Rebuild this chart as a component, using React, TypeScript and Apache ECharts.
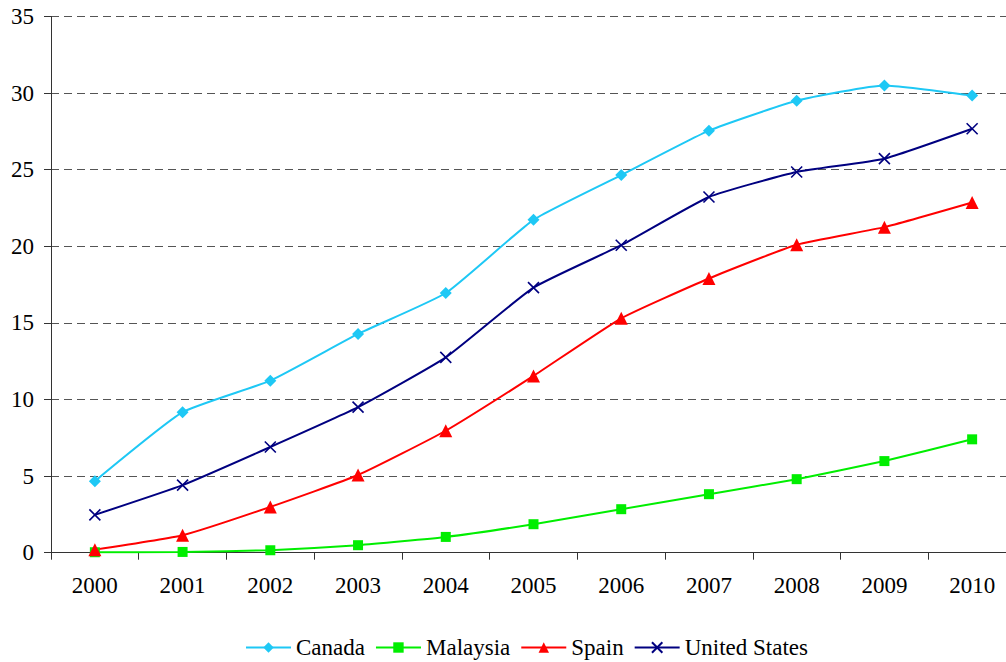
import React, { useEffect, useRef } from "react";
import * as echarts from "echarts";

const years = ["2000", "2001", "2002", "2003", "2004", "2005", "2006", "2007", "2008", "2009", "2010"];
const canada = [4.67, 9.17, 11.23, 14.28, 16.95, 21.73, 24.65, 27.55, 29.5, 30.5, 29.84];
const malaysia = [0.03, 0.05, 0.16, 0.49, 1.03, 1.86, 2.84, 3.82, 4.8, 5.98, 7.4];
const spain = [0.2, 1.14, 2.99, 5.07, 7.96, 11.54, 15.3, 17.9, 20.1, 21.25, 22.86];
const unitedStates = [2.47, 4.41, 6.9, 9.5, 12.75, 17.3, 20.07, 23.22, 24.85, 25.72, 27.67];

const FONT = '"Liberation Serif", "Times New Roman", Times, "DejaVu Serif", serif';
const X_SYMBOL = "path://M0,0L10,10M0,10L10,0";

export default function App() {
  const ref = useRef<HTMLDivElement>(null);
  useEffect(() => {
    document.body.style.margin = "0";
    document.body.style.overflow = "hidden";
    document.documentElement.style.overflow = "hidden";
    const chart = echarts.init(ref.current!, null, { renderer: "svg" });
    const mk = (name: string, data: number[], color: string, symbol: string, size: number, extra: any = {}) => ({
      name,
      type: "line",
      data,
      smooth: 0.15,
      symbol,
      symbolSize: size,
      lineStyle: { color, width: 2 },
      itemStyle: { color, ...extra },
      emphasis: { disabled: true },
    });
    chart.setOption({
      animation: false,
      textStyle: { fontFamily: FONT },
      grid: { left: 51, right: 0, top: 16.5, bottom: 109.3 },
      xAxis: {
        type: "category",
        data: years,
        boundaryGap: true,
        axisLine: { lineStyle: { color: "#333", width: 1 } },
        axisTick: { show: true, length: 7, lineStyle: { color: "#333" } },
        axisLabel: { color: "#000", fontSize: 23, fontFamily: FONT, margin: 21 },
        splitLine: { show: false },
      },
      yAxis: {
        type: "value",
        min: 0,
        max: 35,
        interval: 5,
        axisLine: { show: true, lineStyle: { color: "#333", width: 1 } },
        axisTick: { show: true, length: 7, lineStyle: { color: "#333" } },
        axisLabel: { color: "#000", fontSize: 23, fontFamily: FONT, margin: 17 },
        splitLine: { show: true, lineStyle: { color: "#555", type: [8, 5], width: 1 } },
      },
      legend: {
        left: 240,
        top: 631,
        itemWidth: 45,
        itemHeight: 13,
        itemGap: 10,
        textStyle: { color: "#000", fontSize: 23, fontFamily: FONT },
        data: ["Canada", "Malaysia", "Spain", "United States"],
      },
      series: [
        mk("Canada", canada, "#1ec8f5", "diamond", 12),
        mk("Malaysia", malaysia, "#00ee00", "rect", 10),
        mk("Spain", spain, "#ff0000", "triangle", 13),
        mk("United States", unitedStates, "#000080", X_SYMBOL, 11, { borderColor: "#000080", borderWidth: 1.6 }),
      ],
    });
    return () => chart.dispose();
  }, []);
  return <div ref={ref} style={{ width: 1016, height: 662 }} />;
}
